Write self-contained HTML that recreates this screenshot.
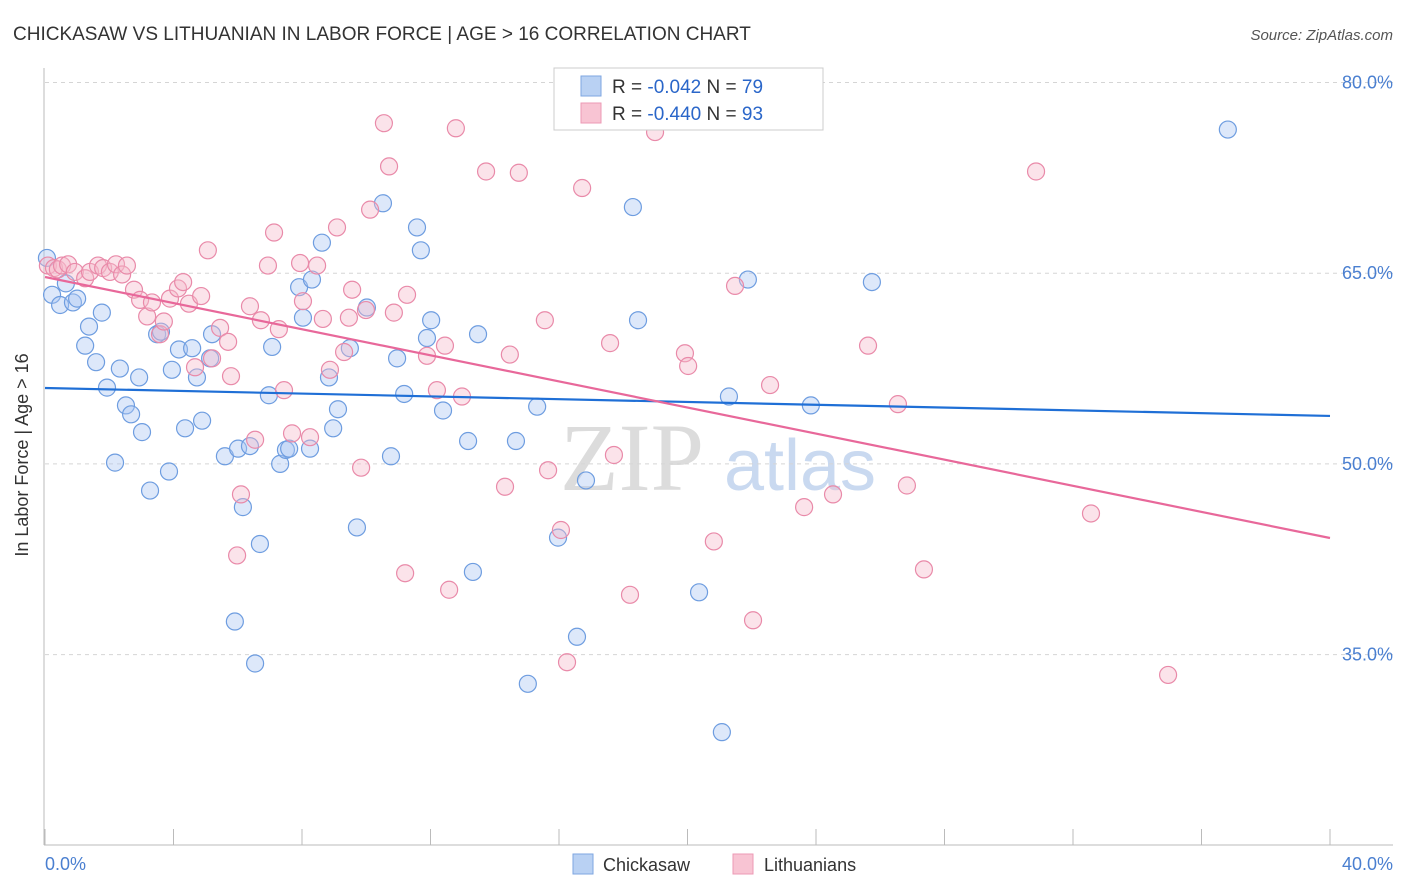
<!DOCTYPE html>
<html><head><meta charset="utf-8"><style>
body{margin:0;background:#fff;font-family:"Liberation Sans",sans-serif;}
svg{display:block}
</style></head><body>
<svg id="chart" width="1406" height="892" viewBox="0 0 1406 892" xmlns="http://www.w3.org/2000/svg">
<text x="13" y="40" font-size="19" fill="#333">CHICKASAW VS LITHUANIAN IN LABOR FORCE | AGE &gt; 16 CORRELATION CHART</text>
<text x="1393" y="40" font-size="15" fill="#555" font-style="italic" text-anchor="end">Source: ZipAtlas.com</text>
<g>
<text x="632" y="490" font-size="96" font-family="Liberation Serif,serif" fill="#dcdcdc" text-anchor="middle">ZIP</text>
<text x="800" y="490" font-size="72" fill="#c9d9f0" text-anchor="middle">atlas</text>
</g>
<g id="grid"></g>
<g id="axes"></g>
<g id="pts"></g>
<g id="trend"></g>
<text x="28" y="455" font-size="18" fill="#333" text-anchor="middle" transform="rotate(-90 28 455)">In Labor Force | Age &gt; 16</text>
<text x="45" y="870" font-size="18" fill="#4a7fd0">0.0%</text>
<text x="1393" y="870" font-size="18" fill="#4a7fd0" text-anchor="end">40.0%</text>
<g>
<rect x="554" y="68" width="269" height="62" fill="#fff" stroke="#ccc"/>
<rect x="581" y="76" width="20" height="20" fill="#b9d1f3" stroke="#7ea6e0"/>
<rect x="581" y="103" width="20" height="20" fill="#f8c4d3" stroke="#ec9ab5"/>
<text x="612" y="93" font-size="19" fill="#333">R = <tspan fill="#2a66c9">-0.042</tspan>    N = <tspan fill="#2a66c9">79</tspan></text>
<text x="612" y="120" font-size="19" fill="#333">R = <tspan fill="#2a66c9">-0.440</tspan>    N = <tspan fill="#2a66c9">93</tspan></text>
</g>
<g>
<rect x="573" y="854" width="20" height="20" fill="#b9d1f3" stroke="#7ea6e0"/>
<text x="603" y="871" font-size="18" fill="#333">Chickasaw</text>
<rect x="733" y="854" width="20" height="20" fill="#f8c4d3" stroke="#ec9ab5"/>
<text x="764" y="871" font-size="18" fill="#333">Lithuanians</text>
</g>
</svg>
<script>
const yTicks=[80,65,50,35];
const yTickLabels=["80.0%","65.0%","50.0%","35.0%"];
const xTicks=[0,4,8,12,16,20,24,28,32,36,40];
const blueX=[0.06,0.22,0.47,0.65,0.87,1.0,1.25,1.37,1.59,1.77,1.93,2.18,2.33,2.52,2.68,2.93,3.02,3.27,3.49,3.61,3.86,3.95,4.17,4.36,4.58,4.73,4.89,5.14,5.20,5.60,5.91,6.01,6.16,6.38,6.54,6.69,6.97,7.07,7.32,7.50,7.60,7.91,8.03,8.25,8.31,8.62,8.84,8.97,9.12,9.49,9.71,10.02,10.52,10.77,10.96,11.18,11.58,11.70,11.89,12.02,12.39,13.17,13.48,13.32,14.66,15.03,15.32,15.97,16.56,16.84,18.30,18.46,20.36,21.07,21.29,21.88,23.84,25.74,36.82];
const blueY=[66.2,63.3,62.5,64.2,62.7,63.0,59.3,60.8,58.0,61.9,56.0,50.1,57.5,54.6,53.9,56.8,52.5,47.9,60.2,60.4,49.4,57.4,59.0,52.8,59.1,56.8,53.4,58.3,60.2,50.6,37.6,51.2,46.6,51.4,34.3,43.7,55.4,59.2,50.0,51.1,51.2,63.9,61.5,51.2,64.5,67.4,56.8,52.8,54.3,59.1,45.0,62.3,70.5,50.6,58.3,55.5,68.6,66.8,59.9,61.3,54.2,51.8,60.2,41.5,51.8,32.7,54.5,44.2,36.4,48.7,70.2,61.3,39.9,28.9,55.3,64.5,54.6,64.3,76.3];
const pinkX=[0.09,0.28,0.40,0.53,0.72,0.93,1.25,1.40,1.65,1.81,2.02,2.21,2.40,2.55,2.77,2.96,3.18,3.33,3.58,3.70,3.89,4.14,4.30,4.48,4.67,4.86,5.07,5.20,5.45,5.70,5.79,5.98,6.10,6.38,6.54,6.72,6.94,7.13,7.28,7.44,7.69,7.94,8.03,8.25,8.47,8.65,8.87,9.09,9.31,9.46,9.56,9.84,9.99,10.12,10.55,10.71,10.86,11.21,11.27,11.89,12.20,12.45,12.58,12.79,12.98,13.73,14.32,14.47,14.75,15.56,15.66,16.06,16.25,16.72,17.59,17.71,18.21,18.99,19.92,20.02,20.82,21.48,22.04,22.57,23.63,24.53,25.62,26.55,26.83,27.36,30.85,32.56,34.96];
const pinkY=[65.6,65.4,65.3,65.6,65.7,65.1,64.6,65.1,65.6,65.4,65.1,65.7,64.9,65.6,63.7,62.9,61.6,62.7,60.2,61.2,63.0,63.8,64.3,62.6,57.6,63.2,66.8,58.3,60.7,59.6,56.9,42.8,47.6,62.4,51.9,61.3,65.6,68.2,60.6,55.8,52.4,65.8,62.8,52.1,65.6,61.4,57.4,68.6,58.8,61.5,63.7,49.7,62.1,70.0,76.8,73.4,61.9,41.4,63.3,58.5,55.8,59.3,40.1,76.4,55.3,73.0,48.2,58.6,72.9,61.3,49.5,44.8,34.4,71.7,59.5,50.7,39.7,76.1,58.7,57.7,43.9,64.0,37.7,56.2,46.6,47.6,59.3,54.7,48.3,41.7,73.0,46.1,33.4];
const blueTrend=[55.97,53.77];
const pinkTrend=[64.7,44.17];
const trendX=[0,40];

const NS="http://www.w3.org/2000/svg";
function xs(v){return 45+v*32.125;}
function ys(v){return 82.5+(80-v)*12.713;}
function mk(tag,attrs,parent){const e=document.createElementNS(NS,tag);for(const k in attrs)e.setAttribute(k,attrs[k]);parent.appendChild(e);return e;}
const grid=document.getElementById('grid'),axes=document.getElementById('axes'),pts=document.getElementById('pts'),trend=document.getElementById('trend');
yTicks.forEach((t,i)=>{
  const l=mk('line',{x1:45,x2:1393,y1:ys(t),y2:ys(t),stroke:'#d5d5d5','stroke-dasharray':'4,4'},grid);
  
  
  const tx=mk('text',{x:1393,y:ys(t)+6,'font-size':18,fill:'#4a7fd0','text-anchor':'end'},axes);
  tx.textContent=yTickLabels[i];
  
  
});
const al=mk('line',{x1:44,x2:44,y1:68,y2:845,stroke:'#bbb'},axes);


const bl=mk('line',{x1:44,x2:1393,y1:845,y2:845,stroke:'#bbb'},axes);


xTicks.forEach(t=>{
  const l=mk('line',{x1:xs(t),x2:xs(t),y1:829,y2:845,stroke:'#bbb'},axes);
  
  
});
function drawPts(X,Y,fill,stroke,name){
  X.forEach((x,i)=>{
    const c=mk('circle',{cx:xs(x),cy:ys(Y[i]),r:8.5,fill:fill,'fill-opacity':0.4,stroke:stroke,'stroke-width':1.2},pts);
    
    
  });
}
drawPts(blueX,blueY,'#a9c6f2','#6e9de0','chickasaw-point');
drawPts(pinkX,pinkY,'#f6b8cb','#e98aa9','lithuanian-point');
const tb=mk('line',{x1:xs(trendX[0]),x2:xs(trendX[1]),y1:ys(blueTrend[0]),y2:ys(blueTrend[1]),stroke:'#1f6fd6','stroke-width':2.2},trend);


const tp=mk('line',{x1:xs(trendX[0]),x2:xs(trendX[1]),y1:ys(pinkTrend[0]),y2:ys(pinkTrend[1]),stroke:'#e8689a','stroke-width':2.2},trend);


</script>
</body></html>
